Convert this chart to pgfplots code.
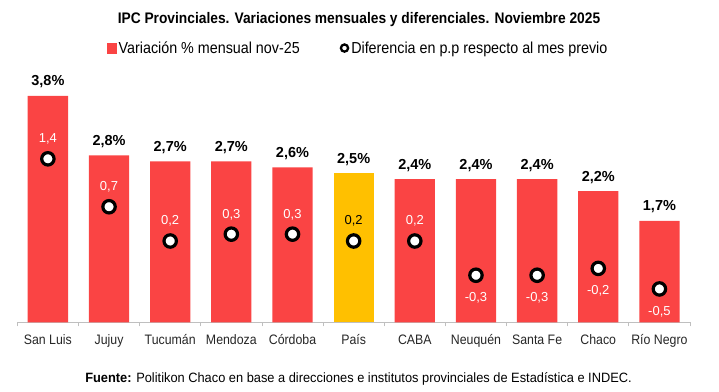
\documentclass[border=0pt]{standalone}
\usepackage{fontspec}
\setmainfont{Liberation Sans}
\newfontfamily\narrow[FakeStretch=0.9]{Liberation Sans}
\newfontfamily\semnarrow[FakeStretch=0.95]{Liberation Sans}
\usepackage{pgfplots}
\pgfplotsset{compat=1.18}
\definecolor{barred}{RGB}{250,68,68}
\definecolor{baryel}{RGB}{255,192,0}
\definecolor{axgray}{RGB}{191,191,191}
\begin{document}
\begin{tikzpicture}[x=1pt,y=1pt]
\useasboundingbox (0pt,0pt) rectangle (719pt,391pt);
\node[font=\narrow\bfseries\fontsize{15.3}{18}\selectfont, anchor=base, inner sep=0pt] at (359pt,367.5pt) {IPC Provinciales. Variaciones mensuales y diferenciales. Noviembre 2025};
\node[font=\semnarrow\fontsize{13.5}{15}\selectfont, anchor=base, inner sep=0pt] at (358.5pt,8.8pt) {\textbf{Fuente:} Politikon Chaco en base a direcciones e institutos provinciales de Estadística e INDEC.};
\begin{axis}[
  at={(17.3pt,68.7pt)}, anchor=south west, scale only axis,
  width=672.7pt, height=256.3pt,
  xmin=-0.5, xmax=10.5, ymin=0, ymax=4.3,
  axis x line*=bottom, axis y line=none,
  x axis line style={-, draw=axgray, line width=0.8pt},
  xtick={0,...,10},
  xticklabels={San Luis, Jujuy, Tucumán, Mendoza, Córdoba, País, CABA, Neuquén, Santa Fe, Chaco, Río Negro},
  major tick length=0pt,
  minor xtick={-0.5,0.5,...,10.5},
  minor tick length=4pt,
  tick align=outside,
  minor tick style={draw=axgray, line width=0.8pt},
  xticklabel style={font=\narrow\fontsize{13.7}{16}\selectfont, text=black!85, yshift=-9pt},
  ybar, bar width=40.3pt, bar shift=0pt,
  clip=false,
]
\addplot[fill=barred, draw=none, nodes near coords, point meta=explicit symbolic,
  nodes near coords style={font=\bfseries\fontsize{14.5}{17}\selectfont, anchor=base, yshift=10pt, inner sep=0pt, text=black}]
  coordinates {(0,3.8)[3,8\%] (1,2.8)[2,8\%] (2,2.7)[2,7\%] (3,2.7)[2,7\%] (4,2.6)[2,6\%] (6,2.4)[2,4\%] (7,2.4)[2,4\%] (8,2.4)[2,4\%] (9,2.2)[2,2\%] (10,1.7)[1,7\%]};
\addplot[fill=baryel, draw=none, nodes near coords, point meta=explicit symbolic,
  nodes near coords style={font=\bfseries\fontsize{14.5}{17}\selectfont, anchor=base, yshift=10pt, inner sep=0pt, text=black}]
  coordinates {(5,2.5)[2,5\%]};
\end{axis}
\begin{axis}[
  at={(17.3pt,68.7pt)}, anchor=south west, scale only axis,
  width=672.7pt, height=256.3pt,
  xmin=-0.5, xmax=10.5, ymin=-0.987, ymax=2.755,
  hide axis, clip=false,
  legend columns=2,
  legend style={draw=none, fill=none, at={(0.5065,1.07)}, anchor=center,
    font=\narrow\fontsize{15.9}{18}\selectfont,
    /tikz/every even column/.append style={column sep=38pt}},
  legend cell align=left,
]
\addlegendimage{legend image code/.code={\fill[barred] (0pt,-4.8pt) rectangle (9.6pt,4.8pt);}}
\addlegendentry{Variación \% mensual nov-25}
\addplot[only marks, mark=*, mark size=6.2pt, mark options={draw=black, fill=white, line width=3.2pt},
  legend image code/.code={\draw[black, fill=white, line width=2.3pt] (5pt,0pt) circle (3.6pt);}]
  coordinates {(0,1.4) (1,0.7) (2,0.2) (3,0.3) (4,0.3) (5,0.2) (6,0.2) (7,-0.3) (8,-0.3) (9,-0.2) (10,-0.5)};
\addlegendentry{Diferencia en p.p respecto al mes previo}
\addplot[forget plot, draw=none, mark=none, nodes near coords, point meta=explicit symbolic,
  nodes near coords style={font=\fontsize{13}{15}\selectfont, anchor=base, yshift=16pt, inner sep=0pt, text=white}]
  coordinates {(0,1.4)[1,4] (1,0.7)[0,7] (2,0.2)[0,2] (3,0.3)[0,3] (4,0.3)[0,3] (6,0.2)[0,2]};
\addplot[forget plot, draw=none, mark=none, nodes near coords, point meta=explicit symbolic,
  nodes near coords style={font=\fontsize{13}{15}\selectfont, anchor=base, yshift=16pt, inner sep=0pt, text=black}]
  coordinates {(5,0.2)[0,2]};
\addplot[forget plot, draw=none, mark=none, nodes near coords, point meta=explicit symbolic,
  nodes near coords style={font=\fontsize{13}{15}\selectfont, anchor=base, yshift=-26.3pt, inner sep=0pt, text=white}]
  coordinates {(7,-0.3)[-0,3] (8,-0.3)[-0,3] (9,-0.2)[-0,2] (10,-0.5)[-0,5]};
\end{axis}
\end{tikzpicture}
\end{document}
